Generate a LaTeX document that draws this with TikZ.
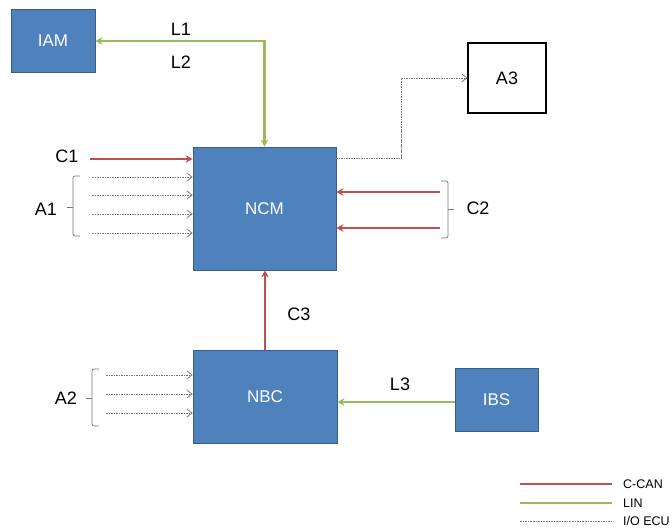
\documentclass[tikz,border=0pt]{standalone}
\usepackage{fontspec}
\setmainfont{Liberation Sans}
\usetikzlibrary{arrows.meta}
\definecolor{boxblue}{RGB}{79,129,189}
\definecolor{boxedge}{RGB}{56,93,138}
\definecolor{canred}{RGB}{192,80,77}
\definecolor{lingreen}{RGB}{155,187,89}
\definecolor{iogray}{RGB}{120,120,120}
\tikzset{
  ecu/.style={draw=boxedge, line width=0.8pt, fill=boxblue, text=white, font=\fontsize{17}{19}\selectfont, inner sep=0pt},
  plainbox/.style={draw=black, line width=1.2pt, fill=white, font=\fontsize{18}{20}\selectfont, inner sep=0pt},
  lbl/.style={font=\fontsize{18}{20}\selectfont, inner sep=0pt},
  leglbl/.style={font=\fontsize{12.5}{14}\selectfont, anchor=west, inner sep=0pt},
  canline/.style={draw=canred, line width=2.3pt, -{Stealth[length=7pt,width=7.5pt]}},
  linline/.style={draw=lingreen, line width=2.3pt, -{Stealth[length=7pt,width=7.5pt]}},
  ioline/.style={draw=iogray, line width=0.8pt, dash pattern=on 1.6pt off 0.9pt, -{Straight Barb[length=5pt,width=8pt]}},
  bracket/.style={draw=iogray, line width=0.8pt, rounded corners=2pt},
}
\begin{document}
\begin{tikzpicture}[x=1pt,y=-1pt]
\useasboundingbox (0,0) rectangle (672,532);
% boxes
\node[ecu, minimum width=84pt, minimum height=63pt] (iam) at (53,41) {IAM};
\node[ecu, minimum width=143pt, minimum height=123pt] (ncm) at (264.5,208.5) {NCM};
\node[ecu, minimum width=144pt, minimum height=93pt] (nbc) at (265,396.5) {NBC};
\node[ecu, minimum width=83pt, minimum height=63pt] (ibs) at (496.5,400) {IBS};
\node[plainbox, minimum width=78pt, minimum height=70pt] (a3) at (507,78) {A3};
% L1/L2
\draw[linline, {Stealth[length=7pt,width=7.5pt]}-{Stealth[length=7pt,width=7.5pt]}] (iam.east) -| (ncm.north);
\node[lbl] (l1) at (181,29) {L1};
\node[lbl] (l2) at (181,62) {L2};
% A3 link
\coordinate (a3s) at (336,158);
\draw[ioline] (a3s) -- (401,158) |- (a3.west);
% C1
\coordinate (c1s) at (90,159);
\draw[canline] (c1s) -- (c1s -| ncm.west);
\node[lbl] (c1) at (67,156) {C1};
% A1
\foreach \y/\n in {177/1,195/2,214/3,233/4}{
  \coordinate (a1s\n) at (92,\y);
  \draw[ioline] (a1s\n) -- (a1s\n -| ncm.west);
}
\draw[bracket] (80,176) -- (73,176) -- (73,236) -- (80,236);
\draw[iogray, line width=0.8pt] (73,207) -- (67,207);
\node[lbl] (a1) at (46,209) {A1};
% C2
\foreach \y/\n in {192/1,228/2}{
  \coordinate (c2s\n) at (440,\y);
  \draw[canline] (c2s\n) -- (c2s\n -| ncm.east);
}
\draw[bracket] (441,181) -- (448,181) -- (448,238) -- (441,238);
\draw[iogray, line width=0.8pt] (448,209) -- (454,209);
\node[lbl] (c2) at (478,208) {C2};
% C3
\draw[canline] (nbc.north) -- (nbc.north |- ncm.south);
\node[lbl] (c3) at (299,314) {C3};
% A2
\foreach \y/\n in {375/1,394/2,413/3}{
  \coordinate (a2s\n) at (106,\y);
  \draw[ioline] (a2s\n) -- (a2s\n -| nbc.west);
}
\draw[bracket] (99,369) -- (92,369) -- (92,426) -- (99,426);
\draw[iogray, line width=0.8pt] (92,398) -- (86,398);
\node[lbl] (a2) at (66,398) {A2};
% L3
\coordinate (l3s) at (455,402);
\draw[linline] (l3s) -- (l3s -| nbc.east);
\node[lbl] (l3) at (400,384) {L3};
% legend
\coordinate (lg1a) at (520,484); \coordinate (lg1b) at (612,484);
\coordinate (lg2a) at (520,503); \coordinate (lg2b) at (612,503);
\coordinate (lg3a) at (520,521); \coordinate (lg3b) at (612,521);
\draw[draw=canred, line width=1.8pt] (lg1a) -- (lg1b);
\draw[draw=lingreen, line width=1.8pt] (lg2a) -- (lg2b);
\draw[draw=iogray, line width=0.7pt, dash pattern=on 1.6pt off 1pt] (lg3a) -- (lg3b);
\node[leglbl] (lgc) at (623,484) {C-CAN};
\node[leglbl] (lgl) at (623,503) {LIN};
\node[leglbl] (lgi) at (623,521) {I/O ECU};
\end{tikzpicture}
\end{document}
